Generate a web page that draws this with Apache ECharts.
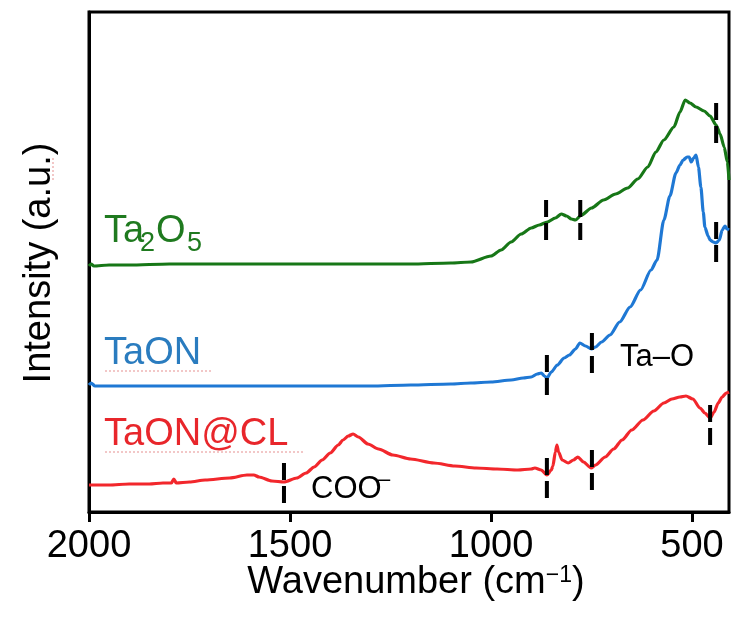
<!DOCTYPE html>
<html><head><meta charset="utf-8">
<script src="https://cdn.jsdelivr.net/npm/echarts@6/dist/echarts.min.js"></script>
<style>html,body{margin:0;padding:0;background:#fff}#c{width:734px;height:624px}</style>
</head><body><div id="c"></div>
<script>
// x: wavenumber (cm^-1), y: intensity (a.u.)
const xTicks = [2000, 1500, 1000, 500];

const ta2o5 = [
  [2000,246],[1995,248],[1988,246],[1950,247],[1900,247],[1800,248],[1700,248],[1600,248],[1500,248],
  [1400,248],[1300,248],[1200,248],[1100,249],[1050,250],[1000,256],[975,262],[950,270],[925,278],
  [900,284],[880,287],[860,290],[840,294],[825,298],[812,296],[800,293],[790,292],[775,297],[750,304],
  [720,312],[690,318],[660,324],[635,333],[610,345],[590,360],[570,372],[545,385],[530,400],[517,412],
  [505,409],[490,405],[470,401],[455,396],[440,387],[430,378],[420,365],[412,350],[408,332]
];

const taon = [
  [2000,127],[1995,129],[1985,126],[1950,126],[1900,126],[1800,126],[1700,126],[1600,126],[1500,126],
  [1400,126],[1300,126],[1200,127],[1100,128],[1050,129],[1000,130],[950,132],[920,134],[900,135],
  [885,138],[875,139],[867,136],[861,134],[850,140],[835,147],[818,154],[805,157],[790,163],[779,169],
  [765,166],[750,163],[740,165],[725,170],[704,177],[680,190],[654,205],[628,222],[602,242],[587,252],
  [570,292],[555,316],[540,339],[530,347],[522,352],[512,355],[507,355],[502,350],[496,354],[490,357],
  [484,345],[478,325],[472,300],[468,285],[460,276],[455,272],[447,270],[440,269],[432,272],[425,282],
  [418,286],[413,283],[408,282]
];

const taonCL = [
  [2000,27],[1950,27],[1900,28],[1850,28],[1816,29],[1795,29],[1789,33],[1783,29],[1750,30],[1711,32],
  [1650,34],[1607,37],[1590,37],[1577,35],[1545,31],[1515,30],[1483,34],[1460,39],[1440,45],[1420,52],
  [1400,59],[1380,67],[1368,72],[1355,76],[1343,78],[1330,75],[1306,68],[1280,63],[1244,57],[1200,53],
  [1142,49],[1090,46],[1037,44],[985,43],[933,42],[900,43],[891,44],[875,42],[861,37],[850,42],[846,46],
  [840,60],[836,67],[832,60],[823,52],[808,49],[795,52],[784,55],[770,50],[751,44],[740,47],[716,55],
  [695,63],[674,72],[650,82],[622,92],[595,101],[570,109],[550,113],[530,115],[515,116],[498,113],
  [480,104],[468,99],[455,94],[445,100],[435,109],[425,115],[415,119],[408,120]
];

// band markers: [wavenumber, top intensity, bottom intensity]
const markersTa2O5 = [[863,312,272],[778,312,272],[440,409,367]];
const markersTaON = [[861,157,117],[749,179,139],[440,290,250]];
const markersTaONCL = [[861,54,14],[749,62,22],[455,107,67],[1515,49,9]];

const FONT = '"Liberation Sans", Arial, Helvetica, sans-serif';

function lineSeries(name, data, color) {
  return { name, type: 'line', data, showSymbol: false, smooth: 0.25, smoothMonotone: 'x',
    lineStyle: { color, width: 3.2 }, itemStyle: { color }, animation: false, z: 3 };
}
const series = [
  lineSeries('Ta2O5', ta2o5, '#177717'),
  lineSeries('TaON', taon, '#1f78d4'),
  lineSeries('TaON@CL', taonCL, '#f2272c')
];
[markersTa2O5, markersTaON, markersTaONCL].forEach(list => list.forEach(m => {
  series.push({ type: 'line', data: [[m[0], m[1]], [m[0], m[2]]], showSymbol: false, silent: true,
    lineStyle: { color: '#000', width: 4, type: [17, 6] }, animation: false, z: 5 });
}));

function txt(x, y, text, size, color, extra) {
  return Object.assign({ type: 'text', x, y, silent: true, z: 10,
    style: { text, fontSize: size, fontFamily: FONT, fill: color,
      align: 'left', verticalAlign: 'middle', textAlign: 'left', textVerticalAlign: 'middle' } }, extra || {});
}

const graphic = [
  txt(104, 232, 'Ta', 38, '#1f7a1f'),
  txt(140, 244, '2', 27, '#1f7a1f'),
  txt(156, 232, 'O', 38, '#1f7a1f'),
  txt(187, 244, '5', 27, '#1f7a1f'),
  txt(104, 354, 'TaON', 38, '#2a7cbf'),
  txt(104, 435, 'TaON@CL', 38, '#e8262b'),
  txt(620, 357, 'Ta\u2013O', 31, '#000'),
  txt(311, 489, 'COO', 31, '#000'),
  txt(378, 480, '\u2013', 22, '#000'),
  { type: 'text', x: 40, y: 263, rotation: Math.PI / 2, silent: true,
    style: { text: 'Intensity (a.u.)', fontSize: 38, fontFamily: FONT, fill: '#000',
      align: 'center', verticalAlign: 'middle', textAlign: 'center', textVerticalAlign: 'middle' } },
  { type: 'text', x: 416, y: 583, silent: true,
    style: { text: '{a|Wavenumber (cm}{s|\u22121}{a|)}', fontFamily: FONT, fill: '#000',
      align: 'center', verticalAlign: 'middle', textAlign: 'center', textVerticalAlign: 'middle',
      rich: { a: { fontSize: 38, fontFamily: FONT, fill: '#000', color: '#000' },
              s: { fontSize: 23, fontFamily: FONT, fill: '#000', color: '#000', verticalAlign: 'top', lineHeight: 30 } } } },
  { type: 'line', silent: true, shape: { x1: 105, y1: 371, x2: 212, y2: 371 },
    style: { stroke: '#e9a3a3', lineWidth: 1.2, lineDash: [2, 2] } },
  { type: 'line', silent: true, shape: { x1: 105, y1: 452, x2: 303, y2: 452 },
    style: { stroke: '#e9a3a3', lineWidth: 1.2, lineDash: [2, 2] } },
  { type: 'line', silent: true, shape: { x1: 53, y1: 158, x2: 53, y2: 182 },
    style: { stroke: '#e9a3a3', lineWidth: 1.2, lineDash: [2, 2] } }
];

const chart = echarts.init(document.getElementById('c'), null, { renderer: 'canvas' });
chart.setOption({
  animation: false,
  backgroundColor: '#fff',
  grid: { left: 89, right: 5, top: 12, bottom: 112, show: true, borderColor: '#000', borderWidth: 3 },
  xAxis: {
    type: 'value', min: 408, max: 2000, inverse: true,
    axisLine: { show: true, lineStyle: { color: '#000', width: 3 } },
    axisTick: { show: true, customValues: xTicks, length: 10, lineStyle: { color: '#000', width: 3 } },
    axisLabel: { customValues: xTicks, fontSize: 38, color: '#000', fontFamily: FONT, margin: 16,
      formatter: v => String(v) },
    splitLine: { show: false }
  },
  yAxis: {
    type: 'value', min: 0, max: 500,
    axisLine: { show: true, lineStyle: { color: '#000', width: 3 } },
    axisTick: { show: false }, axisLabel: { show: false }, splitLine: { show: false }
  },
  series,
  graphic
});
</script></body></html>
